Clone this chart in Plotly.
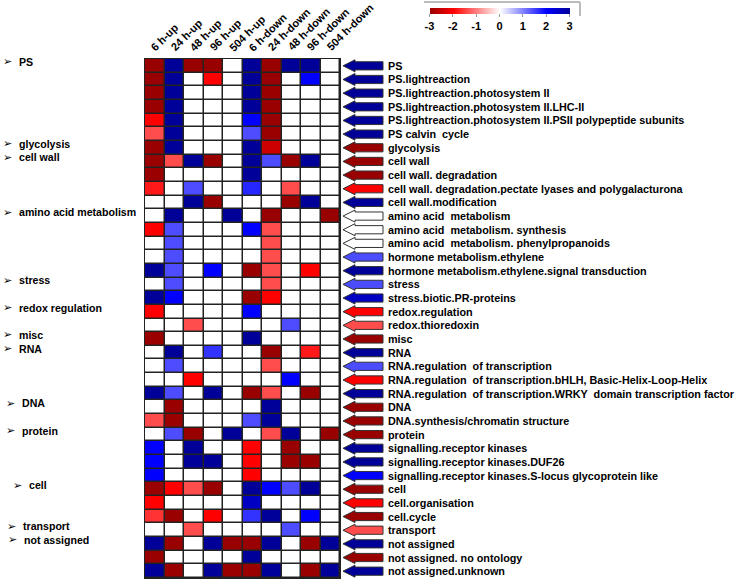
import plotly.graph_objects as go

# ---------------- data ----------------
columns = ["6 h-up", "24 h-up", "48 h-up", "96 h-up", "504 h-up",
           "6 h-down", "24 h-down", "48 h-down", "96 h-down", "504 h-down"]

categories = [
    "PS", "PS.lightreaction", "PS.lightreaction.photosystem II",
    "PS.lightreaction.photosystem II.LHC-II",
    "PS.lightreaction.photosystem II.PSII polypeptide subunits",
    "PS calvin  cycle", "glycolysis", "cell wall", "cell wall. degradation",
    "cell wall. degradation.pectate lyases and polygalacturona",
    "cell wall.modification", "amino acid  metabolism",
    "amino acid  metabolism. synthesis", "amino acid  metabolism. phenylpropanoids",
    "hormone metabolism.ethylene", "hormone metabolism.ethylene.signal transduction",
    "stress", "stress.biotic.PR-proteins", "redox.regulation", "redox.thioredoxin",
    "misc", "RNA", "RNA.regulation  of transcription",
    "RNA.regulation  of transcription.bHLH, Basic-Helix-Loop-Helix",
    "RNA.regulation  of transcription.WRKY  domain transcription factor",
    "DNA", "DNA.synthesis/chromatin structure", "protein",
    "signalling.receptor kinases", "signalling.receptor kinases.DUF26",
    "signalling.receptor kinases.S-locus glycoprotein like",
    "cell", "cell.organisation", "cell.cycle", "transport", "not assigned",
    "not assigned. no ontology", "not assigned.unknown",
]

up_6h = [-3, -3, -3, -3, -2, -1.4, -3, -3, -3, -1.8,
         0, 0, -2, 0, 0, 3, 0, 3, -2, 0,
         -3, 0, 0, 0, 3, 0, -1.4, 0, 2, 2,
         2, -3, -2, -1.6, 0, 3, -3, 3]
up_24h = [3, 3, 3, 3, 3, 3, 3, -1.4, 0, 0,
          0, 3, 1.4, 1.4, 1.4, 1.4, 1.4, 2, 0, 0,
          0, 3, 1.4, 0, 1.4, -3, -3, 1.4, 0, 0,
          0, -2, 0, -3, 0, -3, 0, -3]
up_48h = [-3, 0, 0, 0, 0, 0, 0, 3, 0, 1.4,
          3, 0, 0, 0, 0, 0, 0, 0, 0, -1.4,
          0, 0, 0, -2, 0, 0, 0, -3, 3, 3,
          0, -1.4, 0, 0, -1.4, 0, 0, 0]
up_96h = [-3, -2, 0, 0, 0, 0, 0, -3, 0, 0,
          -3, 0, 0, 0, 0, 2, 0, 0, 0, 0,
          0, 1.6, 0, 0, 3, 0, 0, 0, 0, 3,
          0, -3, 0, -2, 0, 3, 0, 3]
up_504h = [0, 0, 0, 0, 0, 0, 0, 0, 0, 0,
           0, 3, 0, 0, 0, 0, 0, 0, 0, 0,
           0, 0, 0, 0, 0, 0, 0, 3, 0, 0,
           0, 0, 0, 0, 0, -3, 0, -3]
down_6h = [3, 3, 3, 3, 2, 1.4, 3, 3, 3, 1.7,
           0, 0, 2, 0, 0, -3, 0, -3, 2, 0,
           3, 0, 0, 0, -3, 0, 1.4, 0, -2, -2,
           -2, 3, 2.6, 1.6, 0, -3, 3, -3]
down_24h = [-3, -3, -3, -3, -3, -3, -2.5, 1.4, 0, 0,
            0, -3, -1.4, -1.4, -1.4, -1.4, -1.4, -2, 0, 0,
            0, -3, -1.4, 0, -1.4, 3, 3, -1.4, 0, 0,
            0, 2, 0, 3, 0, 3, 0, 3]
down_48h = [3, 0, 0, 0, 0, 0, 0, -3, 0, -1.4,
            -3, 0, 0, 0, 0, 0, 0, 0, 0, 1.4,
            0, 0, 0, 2, 0, 0, 0, 3, -3, -3,
            0, 1.4, 0, 0, 1.4, 0, 0, 0]
down_96h = [3, 2, 0, 0, 0, 0, 0, 3, 0, 0,
            3, 0, 0, 0, 0, -2, 0, 0, 0, 0,
            0, -1.8, 0, 0, -3, 0, 0, 0, 0, -3,
            0, 3, 0, 2, 0, -3, 0, -3]
down_504h = [0, 0, 0, 0, 0, 0, 0, 0, 0, 0,
             0, -3, 0, 0, 0, 0, 0, 0, 0, 0,
             0, 0, 0, 0, 0, 0, 0, -3, 0, 0,
             0, 0, 0, 0, 0, 3, 0, 3]

# summary value shown as the coloured arrow of each row
arrow_values = [3, 3, 3, 3, 3, 3, -3, -3, -3, -2,
                3, 0, 0, 0, 1.4, 3, 1.4, 2.6, -2, -1.4,
                -3, 3, 1.4, -2, 3, -3, -3, -3, 3, 3,
                2, -3, -2, -3, -1.4, 3, -3, 3]

# group headings on the left (label, row it belongs to)
group_labels = ["PS", "glycolysis", "cell wall", "amino acid metabolism", "stress",
                "redox regulation", "misc", "RNA", "DNA", "protein", "cell",
                "transport", "not assigned"]
group_rows = [0, 6, 7, 11, 16, 18, 20, 21, 25, 27, 31, 34, 35]

colorbar_ticks = [-3, -2, -1, 0, 1, 2, 3]

# ---------------- figure ----------------
W, H = 740, 581
FONT = "Arial, Liberation Sans, sans-serif"


def px(xp):
    return xp / W


def py(yp):
    return 1 - yp / H


col_series = [up_6h, up_24h, up_48h, up_96h, up_504h,
              down_6h, down_24h, down_48h, down_96h, down_504h]
n_rows = len(categories)
z = [[col_series[j][i] for j in range(len(columns))] for i in range(n_rows)]

cscale_pts = [(0.0, (153, 0, 0)), (1 / 6, (255, 0, 0)), (0.5, (255, 255, 255)),
              (5 / 6, (0, 0, 255)), (1.0, (0, 0, 153))]
colorscale = [[p, "rgb(%d,%d,%d)" % c] for p, c in cscale_pts]


def value_color(v, vmin=-3, vmax=3):
    t = (v - vmin) / (vmax - vmin)
    t = min(1, max(0, t))
    for (p0, c0), (p1, c1) in zip(cscale_pts[:-1], cscale_pts[1:]):
        if p0 <= t <= p1:
            f = 0 if p1 == p0 else (t - p0) / (p1 - p0)
            c = [round(a + (b - a) * f) for a, b in zip(c0, c1)]
            return "rgb(%d,%d,%d)" % tuple(c)
    return "rgb(%d,%d,%d)" % cscale_pts[-1][1]


fig = go.Figure()
fig.add_trace(go.Heatmap(
    z=z, x=list(range(len(columns))), y=list(range(n_rows)),
    zmin=-3, zmax=3, colorscale=colorscale, xgap=1.5, ygap=1.5,
    hoverinfo="skip",
    colorbar=dict(
        orientation="h", x=px(499.5), xanchor="center", y=py(8), yanchor="top",
        len=140, lenmode="pixels", thickness=6, outlinewidth=0,
        xpad=0, ypad=0,
        tickvals=colorbar_ticks,
        ticktext=["<b>%d</b>" % t for t in colorbar_ticks],
        tickfont=dict(size=11, family=FONT, color="black"),
        ticks="outside", ticklen=3, tickcolor="#999",
    ),
))

axis_common = dict(showticklabels=False, ticks="", showgrid=False, zeroline=False)
fig.update_layout(
    width=W, height=H, margin=dict(l=0, r=0, t=0, b=0),
    paper_bgcolor="white", plot_bgcolor="white",
    showlegend=False,
    xaxis=dict(domain=[px(145), px(340)], range=[-0.5, len(columns) - 0.5],
               showline=True, mirror=True, linecolor="#222", linewidth=1,
               **axis_common),
    yaxis=dict(domain=[py(578), py(59)], range=[n_rows - 0.5, -0.5],
               showline=True, mirror=True, linecolor="#222", linewidth=1,
               **axis_common),
    xaxis2=dict(domain=[px(343), px(384)], range=[0, 41], anchor="y",
                visible=False),
)

shapes = []
# dark background gives the cell borders
shapes.append(dict(type="rect", xref="x domain", yref="y domain", x0=0, x1=1,
                   y0=0, y1=1, fillcolor="#222", line=dict(width=0), layer="below"))

# arrows
hh, bh = 0.44, 0.3
for i, v in enumerate(arrow_values):
    path = (f"M 0,{i} L 12,{i - hh} L 12,{i - bh} L 40,{i - bh} "
            f"L 40,{i + bh} L 12,{i + bh} L 12,{i + hh} Z")
    shapes.append(dict(type="path", xref="x2", yref="y", path=path,
                       fillcolor=value_color(v), line=dict(color="#333", width=1)))

# little frame around the colour key
shapes.append(dict(type="line", xref="paper", yref="paper", x0=px(424), x1=px(580),
                   y0=py(2), y1=py(2), line=dict(color="#bbb", width=2)))
shapes.append(dict(type="line", xref="paper", yref="paper", x0=px(580), x1=px(580),
                   y0=py(2), y1=py(16), line=dict(color="#bbb", width=2)))

annotations = []
# right-hand row labels
for i, name in enumerate(categories):
    annotations.append(dict(text="<b>%s</b>" % name, xref="paper", yref="y",
                            x=px(386), y=i, xanchor="left", yanchor="middle",
                            showarrow=False,
                            font=dict(size=10.8, family=FONT, color="black")))

# column headers
for j, name in enumerate(columns):
    annotations.append(dict(text="<b>%s</b>" % name, xref="x", yref="paper",
                            x=j - 0.5, y=py(56), xanchor="left", yanchor="bottom",
                            xshift=1, textangle=-45, showarrow=False,
                            font=dict(size=11, family=FONT, color="black")))

# left group headings
left_shift = {"DNA": 3, "protein": 3, "cell": 10, "transport": 4, "not assigned": 5}
for name, r in zip(group_labels, group_rows):
    s = left_shift.get(name, 0)
    annotations.append(dict(text="➢", xref="paper", yref="y", x=px(1), y=r,
                            xanchor="left", yanchor="middle", yshift=4, xshift=s,
                            showarrow=False,
                            font=dict(size=11, family="DejaVu Sans", color="black")))
    annotations.append(dict(text="<b>%s</b>" % name, xref="paper", yref="y",
                            x=px(17), y=r, xanchor="left", yanchor="middle",
                            yshift=4, xshift=s, showarrow=False,
                            font=dict(size=10.6, family=FONT, color="black")))

fig.update_layout(shapes=shapes, annotations=annotations)
fig.write_html("out.html",
               config={"displayModeBar": False, "staticPlot": True},
               post_script="document.body.style.margin='0px';"
                           "document.body.style.padding='0px';")
